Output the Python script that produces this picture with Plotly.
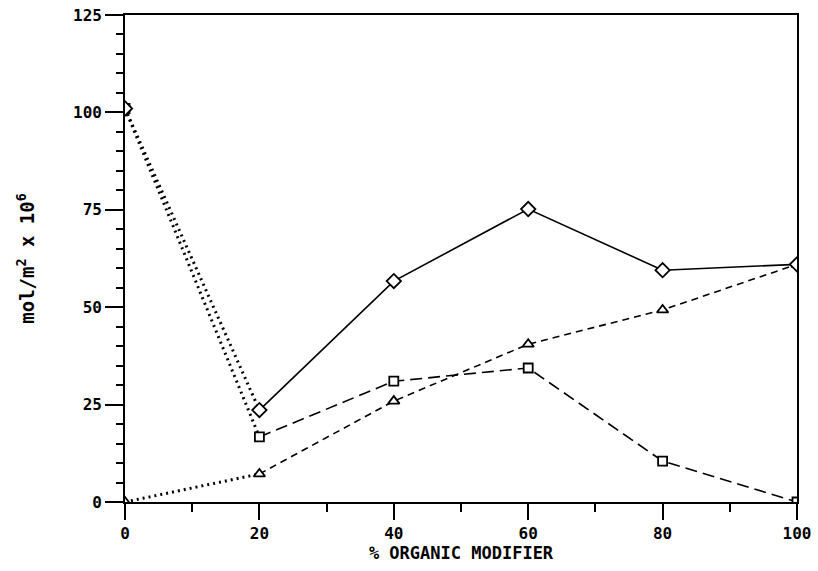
import plotly.graph_objects as go

x_vals = [0, 20, 40, 60, 80, 100]
diamond_y = [101, 23.6, 56.7, 75.2, 59.5, 61]
square_y = [101, 16.7, 31, 34.4, 10.5, 0]
triangle_y = [0, 7.2, 25.9, 40.5, 49.3, 61]

x_ticks = [0, 20, 40, 60, 80, 100]
y_ticks = [0, 25, 50, 75, 100, 125]

FONT = "DejaVu Sans Mono"
fig = go.Figure()

def add_series(y, symbol, dash, size):
    # dotted "+" segment from 0 to 20
    fig.add_trace(go.Scatter(x=x_vals[:2], y=y[:2], mode="lines",
                             line=dict(color="black", width=3, dash="2px,4px"),
                             showlegend=False, hoverinfo="skip"))
    fig.add_trace(go.Scatter(x=x_vals[1:], y=y[1:], mode="lines",
                             line=dict(color="black", width=1.6, dash=dash),
                             showlegend=False, hoverinfo="skip"))
    fig.add_trace(go.Scatter(x=x_vals, y=y, mode="markers",
                             marker=dict(symbol=symbol, size=size, color="white",
                                         line=dict(color="black", width=1.8)),
                             showlegend=False, hoverinfo="skip"))

add_series(square_y, "square", "12px,6px", 9)
add_series(triangle_y, "triangle-up", "7px,5px", 10)
add_series(diamond_y, "diamond", "solid", 11)

fig.update_layout(
    width=818, height=571,
    margin=dict(l=125, r=21, t=15, b=69, autoexpand=False),
    paper_bgcolor="white", plot_bgcolor="white",
    font=dict(family=FONT, color="black", size=15),
)
fig.update_xaxes(
    range=[0, 100], tickvals=x_ticks, ticktext=[str(v) for v in x_ticks],
    ticks="outside", ticklen=16, tickwidth=1.6, tickcolor="black",
    minor=dict(dtick=10, tick0=0, ticks="outside", ticklen=8, tickwidth=1.6, tickcolor="black"),
    showline=True, linecolor="black", linewidth=1.6, mirror=True,
    showgrid=False, zeroline=False, automargin=False,
    tickfont=dict(family=FONT, size=16, weight="bold"),
    title=dict(text="% ORGANIC MODIFIER", font=dict(family=FONT, size=17, weight="bold"), standoff=4),
)
fig.update_yaxes(
    range=[0, 125], tickvals=y_ticks, ticktext=[str(v) for v in y_ticks],
    ticks="outside", ticklen=18, tickwidth=1.6, tickcolor="black",
    minor=dict(dtick=5, tick0=0, ticks="outside", ticklen=7, tickwidth=1.6, tickcolor="black"),
    showline=True, linecolor="black", linewidth=1.6, mirror=True,
    showgrid=False, zeroline=False, automargin=False,
    tickfont=dict(family=FONT, size=16, weight="bold"),
    title=dict(text="mol/m<sup>2</sup> x 10<sup>6</sup>", font=dict(family=FONT, size=19, weight="bold"), standoff=33),
)

fig.write_html("out.html")
